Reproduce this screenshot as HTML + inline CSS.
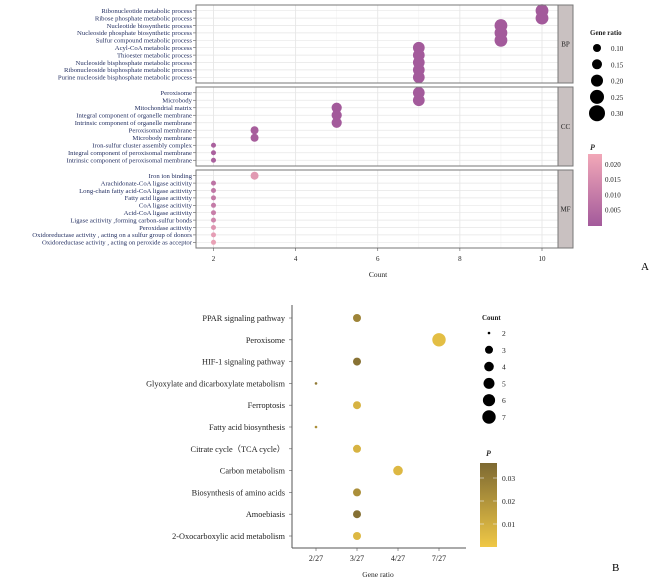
<!DOCTYPE html>
<html><head><meta charset="utf-8"><style>
html,body{margin:0;padding:0;background:#fff;width:655px;height:580px;overflow:hidden}
svg{font-family:"Liberation Serif",serif}
</style></head><body>
<svg id="chart" width="655" height="580" viewBox="0 0 655 580" xmlns="http://www.w3.org/2000/svg">
<g id="pa"></g>
<g id="pb"></g>
<text x="641" y="270" font-size="11">A</text>
<text x="612" y="571" font-size="11">B</text>
</svg>
<script>
// ---- Panel A data ----
const bpTerms=["Ribonucleotide metabolic process","Ribose phosphate metabolic process","Nucleotide biosynthetic process","Nucleoside phosphate biosynthetic process","Sulfur compound metabolic process","Acyl-CoA metabolic process","Thioester metabolic process","Nucleoside bisphosphate metabolic process","Ribonucleoside bisphosphate metabolic process","Purine nucleoside bisphosphate metabolic process"];
const bpCounts=[10,10,9,9,9,7,7,7,7,7];
const bpP=[0.001,0.001,0.001,0.001,0.001,0.001,0.001,0.001,0.001,0.001];
const ccTerms=["Peroxisome","Microbody","Mitochondrial matrix","Integral component of organelle membrane","Intrinsic component of organelle membrane","Peroxisomal membrane","Microbody membrane","Iron-sulfur cluster assembly complex","Integral component of peroxisomal membrane","Intrinsic component of peroxisomal membrane"];
const ccCounts=[7,7,5,5,5,3,3,2,2,2];
const ccP=[0.001,0.001,0.001,0.001,0.001,0.002,0.002,0.003,0.003,0.003];
const mfTerms=["Iron ion binding","Arachidonate-CoA ligase acitivity","Long-chain fatty acid-CoA ligase acitivity","Fatty acid ligase acitivity","CoA ligase acitivity","Acid-CoA ligase acitivity","Ligase acitivity ,forming carbon-sulfur bonds","Peroxidase acitivity","Oxidoreductase activity , acting on a sulfur group of donors","Oxidoreductase activity , acting on peroxide as acceptor"];
const mfCounts=[3,2,2,2,2,2,2,2,2,2];
const mfP=[0.018,0.008,0.009,0.010,0.010,0.011,0.013,0.017,0.019,0.020];
const aTicks=[2,4,6,8,10];
const ratioLegend=["0.10","0.15","0.20","0.25","0.30"];
const pLegendA=["0.020","0.015","0.010","0.005"];
// ---- Panel B data ----
const kTerms=["PPAR signaling pathway","Peroxisome","HIF-1 signaling pathway","Glyoxylate and dicarboxylate metabolism","Ferroptosis","Fatty acid biosynthesis","Citrate cycle\uFF08TCA cycle\uFF09","Carbon metabolism","Biosynthesis of amino acids","Amoebiasis","2-Oxocarboxylic acid metabolism"];
const kRatio=["3/27","7/27","3/27","2/27","3/27","2/27","3/27","4/27","3/27","3/27","3/27"];
const kCount=[3,7,3,2,3,2,3,4,3,3,3];
const kP=[0.026,0.004,0.033,0.030,0.008,0.022,0.008,0.006,0.022,0.034,0.006];
const bTicks=["2/27","3/27","4/27","7/27"];
const countLegend=[2,3,4,5,6,7];
const pLegendB=["0.03","0.02","0.01"];

const NS="http://www.w3.org/2000/svg";
function mk(parent,tag,attrs,txt){const e=document.createElementNS(NS,tag);for(const k in attrs)e.setAttribute(k,attrs[k]);if(txt!==undefined)e.textContent=txt;parent.appendChild(e);return e;}
function lerp(a,b,t){return a.map((v,i)=>Math.round(v+(b[i]-v)*t));}
function rgb(c){return "rgb("+c.join(",")+")";}

// ===== Panel A =====
const pa=document.getElementById('pa');
const ax0=196, ax1=558;
const xA=v=>213.5+(v-2)*(542-213.5)/8;
const rA=c=>Math.min(6.4,2.5+Math.sqrt(c-2)*1.5);
const colA=p=>rgb(lerp([163,90,155],[240,168,184],Math.min(1,Math.max(0,(p-0.001)/0.021))));
const facets=[{name:"BP",terms:bpTerms,counts:bpCounts,p:bpP,y0:5,y1:83},{name:"CC",terms:ccTerms,counts:ccCounts,p:ccP,y0:87,y1:166},{name:"MF",terms:mfTerms,counts:mfCounts,p:mfP,y0:170,y1:248}];
facets.forEach(f=>{
  const g=mk(pa,'g',{});
  
  
  mk(g,'rect',{x:ax0,y:f.y0,width:ax1-ax0,height:f.y1-f.y0,fill:"#fff",stroke:"none"});
  const n=f.terms.length, step=(f.y1-f.y0-4)/(n-0.0);
  const yRow=i=>f.y0+2+step*(i+0.5);
  aTicks.forEach(t=>mk(g,'line',{x1:xA(t),x2:xA(t),y1:f.y0,y2:f.y1,stroke:"#e3e3e3","stroke-width":0.8}));
  [3,5,7,9].forEach(t=>mk(g,'line',{x1:xA(t),x2:xA(t),y1:f.y0,y2:f.y1,stroke:"#f0f0f0","stroke-width":0.5}));
  f.terms.forEach((t,i)=>{
    mk(g,'line',{x1:ax0,x2:ax1,y1:yRow(i),y2:yRow(i),stroke:"#e6e6e6","stroke-width":0.7});
    mk(g,'line',{x1:ax0-3,x2:ax0,y1:yRow(i),y2:yRow(i),stroke:"#555","stroke-width":0.6});
    const lb=mk(g,'text',{x:ax0-4,y:yRow(i)+2.3,"font-size":6.7,"text-anchor":"end",fill:"#1f2b5e"},t);
    
    
  });
  f.terms.forEach((t,i)=>{
    const c=mk(g,'circle',{cx:xA(f.counts[i]),cy:yRow(i),r:rA(f.counts[i]),fill:colA(f.p[i])});
    
    
  });
  mk(g,'rect',{x:ax0,y:f.y0,width:ax1-ax0,height:f.y1-f.y0,fill:"none",stroke:"#777","stroke-width":1});
  const s=mk(g,'rect',{x:ax1,y:f.y0,width:15,height:f.y1-f.y0,fill:"#c9c1c1",stroke:"#777","stroke-width":1});
  
  
  mk(g,'text',{x:ax1+7.5,y:(f.y0+f.y1)/2+2.5,"font-size":7,"text-anchor":"middle",fill:"#222"},f.name);
});
aTicks.forEach(t=>{
  mk(pa,'line',{x1:xA(t),x2:xA(t),y1:248,y2:251,stroke:"#555","stroke-width":0.6});
  const tl=mk(pa,'text',{x:xA(t),y:261,"font-size":7,"text-anchor":"middle",fill:"#222"},t);
  
  
});
const xta=mk(pa,'text',{x:378,y:277,"font-size":7.5,"text-anchor":"middle",fill:"#222"},"Count");


// legend A
const lga=mk(pa,'g',{});


mk(lga,'text',{x:590,y:35,"font-size":7,"font-weight":"bold",fill:"#222"},"Gene ratio");
ratioLegend.forEach((l,i)=>{
  mk(lga,'circle',{cx:597,cy:48+i*16.3,r:4+i*1});
  mk(lga,'text',{x:611,y:51+i*16.3,"font-size":7,fill:"#222"},l);
});
const lgpa=mk(pa,'g',{});


mk(lgpa,'text',{x:590,y:150,"font-size":8,"font-style":"italic","font-weight":"bold",fill:"#333"},"P");
const dA=mk(pa,'defs',{});
const grA=mk(dA,'linearGradient',{id:"gA",x1:0,y1:0,x2:0,y2:1});
mk(grA,'stop',{offset:"0",  "stop-color":"#f2a8b8"});
mk(grA,'stop',{offset:"1","stop-color":"#a35a9b"});
mk(lgpa,'rect',{x:588,y:154,width:14,height:72,fill:"url(#gA)"});
pLegendA.forEach((l,i)=>mk(lgpa,'text',{x:605,y:167+i*15.2,"font-size":7,fill:"#222"},l));

// ===== Panel B =====
const pb=document.getElementById('pb');
const bx0=292,bx1=466,by0=305,by1=548;
const xB=r=>316+bTicks.indexOf(r)*41;
const yB=i=>318+i*21.8;
const rB=c=>[0,0,1.3,4,4.8,5.5,6.1,6.7][c];
const colB=p=>rgb(lerp([240,200,70],[125,105,50],Math.min(1,Math.max(0,p/0.0365))));
mk(pb,'line',{x1:bx0,x2:bx0,y1:by0,y2:by1,stroke:"#555","stroke-width":1});
mk(pb,'line',{x1:bx0,x2:bx1,y1:by1,y2:by1,stroke:"#555","stroke-width":1});
kTerms.forEach((t,i)=>{
  mk(pb,'line',{x1:bx0-3,x2:bx0,y1:yB(i),y2:yB(i),stroke:"#555","stroke-width":0.6});
  const lb=mk(pb,'text',{x:bx0-7,y:yB(i)+3,"font-size":8.3,"text-anchor":"end",fill:"#222"},t);
  
  
  const c=mk(pb,'circle',{cx:xB(kRatio[i]),cy:yB(i),r:rB(kCount[i]),fill:colB(kP[i])});
  
  
});
bTicks.forEach(t=>{
  mk(pb,'line',{x1:xB(t),x2:xB(t),y1:by1,y2:by1+3,stroke:"#555","stroke-width":0.6});
  const tl=mk(pb,'text',{x:xB(t),y:by1+13,"font-size":8,"text-anchor":"middle",fill:"#222"},t);
  
  
});
const xtb=mk(pb,'text',{x:378,y:577,"font-size":7.5,"text-anchor":"middle",fill:"#222"},"Gene ratio");


const lgc=mk(pb,'g',{});


mk(lgc,'text',{x:482,y:320,"font-size":7,"font-weight":"bold",fill:"#222"},"Count");
countLegend.forEach((c,i)=>{
  mk(lgc,'circle',{cx:489,cy:333+i*16.8,r:rB(c),fill:"#000"});
  mk(lgc,'text',{x:502,y:336+i*16.8,"font-size":7.5,fill:"#222"},c);
});
const lgpb=mk(pb,'g',{});


mk(lgpb,'text',{x:486,y:456,"font-size":8,"font-style":"italic","font-weight":"bold",fill:"#333"},"P");
const grB=mk(dA,'linearGradient',{id:"gB",x1:0,y1:0,x2:0,y2:1});
mk(grB,'stop',{offset:"0","stop-color":"#7d6932"});
mk(grB,'stop',{offset:"1","stop-color":"#f0c846"});
mk(lgpb,'rect',{x:480,y:463,width:17,height:84,fill:"url(#gB)"});
pLegendB.forEach((l,i)=>{
  mk(lgpb,'line',{x1:480,x2:484,y1:478+i*23,y2:478+i*23,stroke:"#eee","stroke-width":0.6});
  mk(lgpb,'line',{x1:493,x2:497,y1:478+i*23,y2:478+i*23,stroke:"#eee","stroke-width":0.6});
  mk(lgpb,'text',{x:502,y:481+i*23,"font-size":7.5,fill:"#222"},l);
});
</script>
</body></html>
